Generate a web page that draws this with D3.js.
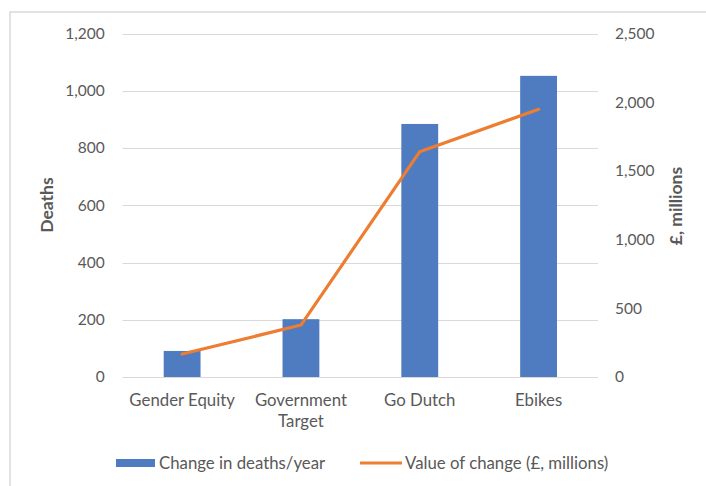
<!DOCTYPE html>
<html>
<head>
<meta charset="utf-8">
<script src="https://cdn.jsdelivr.net/npm/d3@7"></script>
<style>
  html, body { margin: 0; padding: 0; background: #ffffff; }
  svg { display: block; }
  text { font-family: Lato, "Open Sans", sans-serif; fill: #595959; }
</style>
</head>
<body>
<svg id="chart" width="706" height="486"></svg>
<script>
const categories = ["Gender Equity", "Government Target", "Go Dutch", "Ebikes"];
const categoryLines = [["Gender Equity"], ["Government", "Target"], ["Go Dutch"], ["Ebikes"]];
const deaths = [91, 202, 884, 1052];
const valueMillions = [167, 378, 1640, 1948];
const leftTicks = [0, 200, 400, 600, 800, 1000, 1200];
const rightTicks = [0, 500, 1000, 1500, 2000, 2500];
const barLabel = "Change in deaths/year";
const lineLabel = "Value of change (£, millions)";
const leftTitle = "Deaths";
const rightTitle = "£, millions";

(function () {
const svg = d3.select("#chart");
const pLeft = 122.7, pRight = 598, pTop = 33.5, pBottom = 377;
const labelSize = "16.8px";

// outer frame
svg.append("rect").attr("x", 10).attr("y", 12).attr("width", 720).attr("height", 500)
  .attr("fill", "none").attr("stroke", "#d9d9d9").attr("stroke-width", 1.5);

const x = d3.scaleBand().domain(categories).range([pLeft, pRight]).padding(0);
const yL = d3.scaleLinear().domain([0, 1200]).range([pBottom, pTop]);
const yR = d3.scaleLinear().domain([0, 2500]).range([pBottom, pTop]);

// gridlines
svg.append("g").selectAll("line").data(leftTicks).join("line")
  .attr("x1", pLeft).attr("x2", pRight)
  .attr("y1", d => Math.round(yL(d)) + 0.5).attr("y2", d => Math.round(yL(d)) + 0.5)
  .attr("stroke", "#d9d9d9").attr("stroke-width", 1);

// left axis
const fmt = d3.format(",");
const gL = svg.append("g").attr("transform", `translate(${pLeft},0)`)
  .call(d3.axisLeft(yL).tickValues(leftTicks).tickFormat(fmt).tickSize(0).tickPadding(18));
gL.select(".domain").remove();
gL.selectAll("text").style("font-family", "Lato, sans-serif").style("font-size", "15.5px").attr("fill", "#595959");

// right axis
const gR = svg.append("g").attr("transform", `translate(${pRight},0)`)
  .call(d3.axisRight(yR).tickValues(rightTicks).tickFormat(fmt).tickSize(0).tickPadding(17));
gR.select(".domain").remove();
gR.selectAll("text").style("font-family", "Lato, sans-serif").style("font-size", "15.5px").attr("fill", "#595959");

// bars
const bw = x.bandwidth() * 0.31;
svg.append("g").selectAll("rect").data(categories).join("rect")
  .attr("x", (d) => x(d) + x.bandwidth() / 2 - bw / 2)
  .attr("width", bw)
  .attr("y", (d, i) => yL(deaths[i]))
  .attr("height", (d, i) => yL(0) - yL(deaths[i]))
  .attr("fill", "#4f7bc0");

// line
const line = d3.line()
  .x((d, i) => x(categories[i]) + x.bandwidth() / 2)
  .y(d => yR(d));
svg.append("path").datum(valueMillions)
  .attr("d", line)
  .attr("fill", "none").attr("stroke", "#ed7d31").attr("stroke-width", 3.2)
  .attr("stroke-linejoin", "round").attr("stroke-linecap", "round");

// x labels
const xl = svg.append("g");
categories.forEach((c, i) => {
  const t = xl.append("text").attr("text-anchor", "middle")
    .attr("x", x(c) + x.bandwidth() / 2).attr("y", 406)
    .style("font-size", labelSize);
  categoryLines[i].forEach((ln, j) => {
    t.append("tspan").attr("x", x(c) + x.bandwidth() / 2).attr("dy", j === 0 ? 0 : 21).text(ln);
  });
});

// axis titles
svg.append("text").attr("transform", `translate(53,205) rotate(-90)`)
  .attr("text-anchor", "middle").style("font-size", "17.5px").style("font-weight", "bold").text(leftTitle);
svg.append("text").attr("transform", `translate(682,206) rotate(-90)`)
  .attr("text-anchor", "middle").style("font-size", "17.5px").style("font-weight", "bold").text(rightTitle);

// legend
svg.append("rect").attr("x", 116).attr("y", 459).attr("width", 39).attr("height", 8).attr("fill", "#4f7bc0");
svg.append("text").attr("x", 159).attr("y", 469).style("font-size", labelSize).text(barLabel);
svg.append("line").attr("x1", 360).attr("x2", 402).attr("y1", 463).attr("y2", 463)
  .attr("stroke", "#ed7d31").attr("stroke-width", 3.2);
svg.append("text").attr("x", 405).attr("y", 469).style("font-size", labelSize).text(lineLabel);
})();
</script>
</body>
</html>
